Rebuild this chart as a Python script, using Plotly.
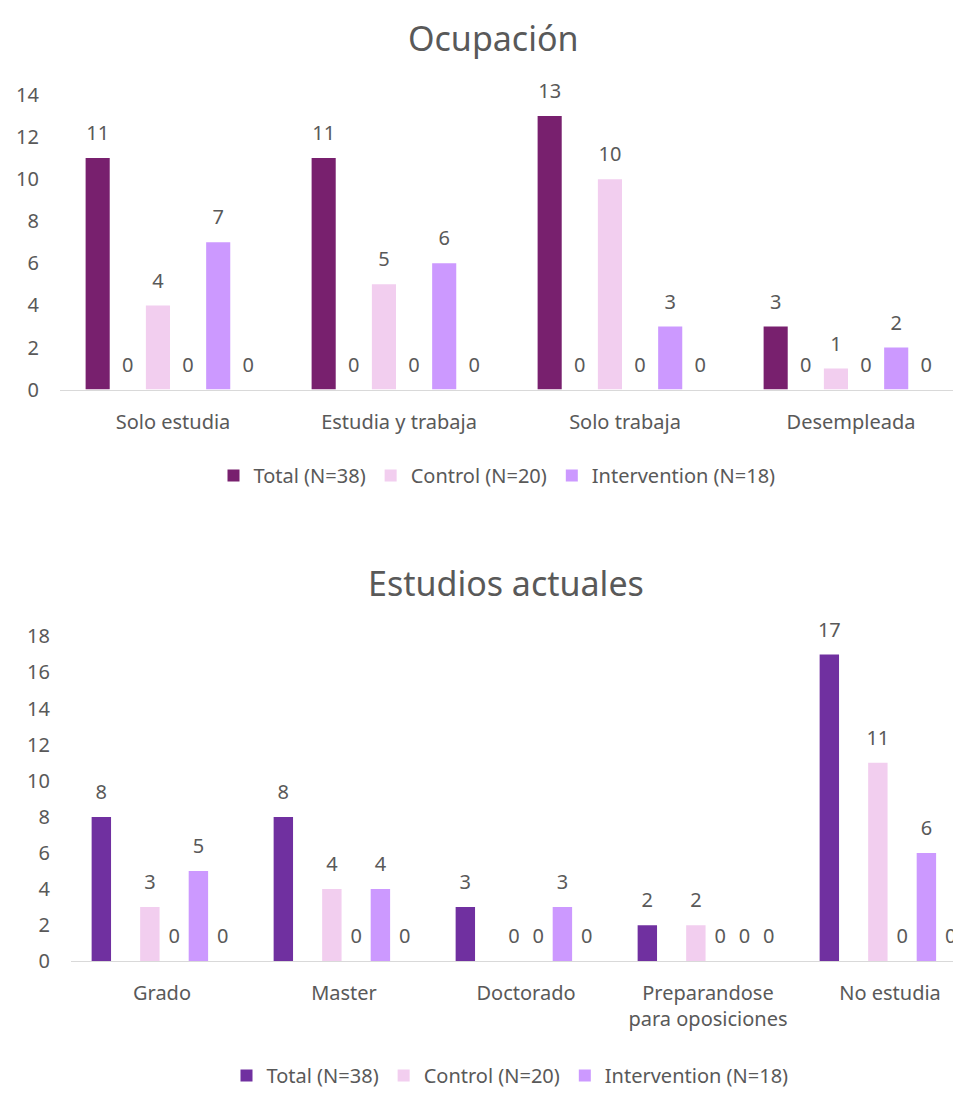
import plotly.graph_objects as go

# ---------------- data ----------------
occ_categories = ["Solo estudia", "Estudia y trabaja", "Solo trabaja", "Desempleada"]
occ_total = [11, 11, 13, 3]
occ_blank_a = [0, 0, 0, 0]
occ_control = [4, 5, 10, 1]
occ_blank_b = [0, 0, 0, 0]
occ_intervention = [7, 6, 3, 2]
occ_blank_c = [0, 0, 0, 0]

est_categories = ["Grado", "Master", "Doctorado", "Preparandose<br>para oposiciones", "No estudia"]
est_total = [8, 8, 3, 2, 17]
est_blank_a = [None, None, None, None, None]
est_control = [3, 4, 0, 2, 11]
est_blank_b = [0, 0, 0, 0, 0]
est_intervention = [5, 4, 3, 0, 6]
est_blank_c = [0, 0, 0, 0, 0]

series_names = ["Total (N=38)", None, "Control (N=20)", None, "Intervention (N=18)", None]

# ---------------- style ----------------
FONT = "Noto Sans"
GREY = "#595959"
occ_colors = ["#78206E", "#FFFFFF", "#F2CEEF", "#FFFFFF", "#CC99FF", "#FFFFFF"]
est_colors = ["#7030A0", "#FFFFFF", "#F2CEEF", "#FFFFFF", "#CC99FF", "#FFFFFF"]
BARGAP = 0.2
NSLOT = 6
SLOT = (1 - BARGAP) / NSLOT
BARW = SLOT * 0.8
TICK_FS = 20
TITLE_FS = 34

W, H = 953, 1104

fig = go.Figure()


def add_chart(series, colors, n_cat, xa, ya, legend):
    for k, vals in enumerate(series):
        xs = [i + (k - (NSLOT - 1) / 2) * SLOT for i in range(n_cat)]
        name = series_names[k]
        fig.add_trace(go.Bar(
            x=xs, y=vals, width=BARW,
            marker=dict(color=colors[k], line=dict(width=0)),
            name=name if name else "",
            showlegend=bool(name),
            legend=legend,
            xaxis=xa, yaxis=ya, hoverinfo="skip",
        ))
        fig.add_trace(go.Scatter(
            x=xs, y=vals, mode="markers+text",
            text=[("" if v is None else str(v)) for v in vals],
            textposition="top center",
            textfont=dict(family=FONT, size=TICK_FS, color=GREY),
            marker=dict(size=19, opacity=0),
            showlegend=False, cliponaxis=False,
            xaxis=xa, yaxis=ya, hoverinfo="skip",
        ))


add_chart([occ_total, occ_blank_a, occ_control, occ_blank_b, occ_intervention, occ_blank_c],
          occ_colors, len(occ_categories), "x", "y", "legend")
add_chart([est_total, est_blank_a, est_control, est_blank_b, est_intervention, est_blank_c],
          est_colors, len(est_categories), "x2", "y2", "legend2")

axis_font = dict(family=FONT, size=TICK_FS, color=GREY)


def px_y(p):
    return 1 - p / H


fig.update_layout(
    width=W, height=H,
    margin=dict(l=0, r=0, t=0, b=0),
    paper_bgcolor="white", plot_bgcolor="white",
    font=dict(family=FONT, color=GREY),
    showlegend=True,
    xaxis=dict(
        domain=[60 / W, 1], range=[-0.5, -0.5 + 893 / 226],
        tickvals=list(range(len(occ_categories))), ticktext=occ_categories,
        showgrid=False, zeroline=False, showline=True, linecolor="#D9D9D9", linewidth=1,
        ticks="", tickfont=axis_font, ticklabelstandoff=14, anchor="y", fixedrange=True,
    ),
    yaxis=dict(
        domain=[px_y(385), px_y(83)], range=[0, 14], tick0=0, dtick=2,
        showgrid=False, zeroline=False, showline=False, ticks="",
        tickfont=axis_font, ticklabelstandoff=20, anchor="x", fixedrange=True,
    ),
    xaxis2=dict(
        domain=[71 / W, 1], range=[-0.5, -0.5 + 882 / 182],
        tickvals=list(range(len(est_categories))), ticktext=est_categories,
        showgrid=False, zeroline=False, showline=True, linecolor="#D9D9D9", linewidth=1,
        ticks="", tickfont=axis_font, ticklabelstandoff=14, anchor="y2", fixedrange=True,
    ),
    yaxis2=dict(
        domain=[px_y(971), px_y(638)], range=[0, 18], tick0=0, dtick=2,
        showgrid=False, zeroline=False, showline=False, ticks="",
        tickfont=axis_font, ticklabelstandoff=20, anchor="x2", fixedrange=True,
    ),
    legend=dict(
        orientation="h", x=497 / W, xanchor="center", y=px_y(473), yanchor="middle",
        font=dict(family=FONT, size=TICK_FS, color=GREY), bgcolor="rgba(0,0,0,0)",
    ),
    legend2=dict(
        orientation="h", x=510 / W, xanchor="center", y=px_y(1088), yanchor="middle",
        font=dict(family=FONT, size=TICK_FS, color=GREY), bgcolor="rgba(0,0,0,0)",
    ),
    annotations=[
        dict(text="Ocupación", x=494 / W, y=px_y(25), xref="paper", yref="paper",
             xanchor="center", yanchor="middle", showarrow=False,
             font=dict(family=FONT, size=TITLE_FS, color=GREY)),
        dict(text="Estudios actuales", x=506 / W, y=px_y(583), xref="paper", yref="paper",
             xanchor="center", yanchor="middle", showarrow=False,
             font=dict(family=FONT, size=TITLE_FS, color=GREY)),
    ],
)

fig.write_html("out.html")
